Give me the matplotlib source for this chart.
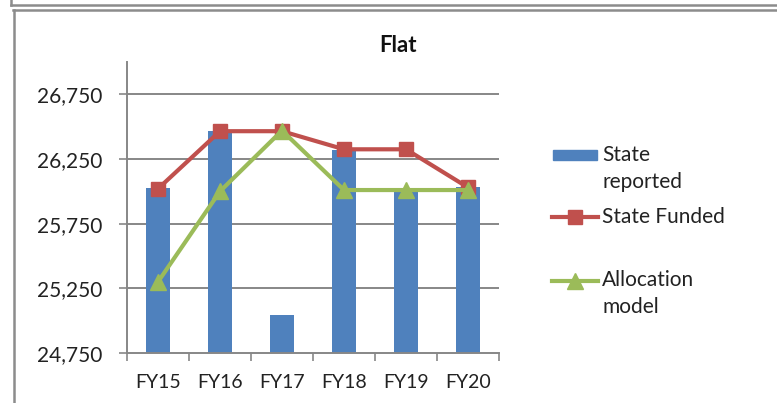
import matplotlib
matplotlib.use("Agg")
import matplotlib.pyplot as plt
from matplotlib.lines import Line2D
from matplotlib.patches import Rectangle
import numpy as np

categories = ["FY15", "FY16", "FY17", "FY18", "FY19", "FY20"]
state_reported = [26025, 26465, 25045, 26320, 26025, 26030]
state_funded = [26020, 26465, 26465, 26325, 26325, 26030]
allocation_model = [25300, 26000, 26470, 26010, 26010, 26010]
y_ticks = [24750, 25250, 25750, 26250, 26750]

BLUE = "#4F81BD"
RED = "#C0504D"
GREEN = "#9BBB59"
GRID = "#878787"
TEXT = "#222222"
FONT = "Lato"

plt.rcParams["font.family"] = [FONT, "DejaVu Sans"]

W, H = 777, 403
fig = plt.figure(figsize=(W / 100, H / 100), dpi=100)
ax = fig.add_axes([127 / W, 1 - 353 / H, 372 / W, 291 / H])

x = np.arange(len(categories))
ax.bar(x, state_reported, width=0.4, color=BLUE, zorder=2)
ax.plot(x, state_funded, color=RED, lw=3, marker="s", ms=10, zorder=3)
ax.plot(x, allocation_model, color=GREEN, lw=3, marker="^", ms=11, zorder=4)

ax.set_xlim(-0.5, len(categories) - 0.5)
ax.set_ylim(24750, 27000)
ax.set_yticks(y_ticks)
ax.set_yticklabels([f"{v:,}" for v in y_ticks], fontsize=15, color=TEXT)
ax.set_xticks(x)
ax.set_xticklabels(categories, fontsize=14, color=TEXT)
ax.tick_params(axis="x", length=0, pad=15)
ax.tick_params(axis="y", length=6, width=1.2, color=GRID, pad=12)
# tick marks between categories on the x axis
ax.set_xticks(np.arange(-0.5, len(categories)), minor=True)
ax.tick_params(axis="x", which="minor", length=6, width=1.2, color=GRID)

for v in y_ticks[1:]:
    ax.axhline(v, color=GRID, lw=1.4, zorder=1)

for side in ["top", "right"]:
    ax.spines[side].set_visible(False)
for side in ["left", "bottom"]:
    ax.spines[side].set_color(GRID)
    ax.spines[side].set_linewidth(1.4)

fig.text(398 / W, 1 - 46 / H, "Flat", fontsize=16, fontweight="bold",
         ha="center", va="center", color="#111111")


def fx(px):
    return px / W


def fy(py):
    return 1 - py / H


# legend drawn by hand so the handles sit on the first text line
fig.add_artist(Rectangle((fx(553), fy(160)), fx(44), 10 / H, color=BLUE,
                         transform=fig.transFigure))
fig.add_artist(Line2D([fx(552), fx(598)], [fy(217), fy(217)], color=RED, lw=3,
                      transform=fig.transFigure))
fig.add_artist(Line2D([fx(575)], [fy(217)], color=RED, marker="s", ms=10,
                      transform=fig.transFigure))
fig.add_artist(Line2D([fx(552), fx(598)], [fy(281), fy(281)], color=GREEN, lw=3,
                      transform=fig.transFigure))
fig.add_artist(Line2D([fx(575)], [fy(281)], color=GREEN, marker="^", ms=11,
                      transform=fig.transFigure))
for label, py in [("State", 155), ("reported", 182), ("State Funded", 217),
                  ("Allocation", 280), ("model", 307)]:
    fig.text(fx(602), fy(py), label, fontsize=15, ha="left", va="center",
             color=TEXT)

# frame of the chart area
frame = dict(color="#8c8c8c", lw=1.8, transform=fig.transFigure)
fig.add_artist(Line2D([fx(11), 1], [fy(4.5), fy(4.5)], **frame))
fig.add_artist(Line2D([fx(13), 1], [fy(10), fy(10)], **frame))
fig.add_artist(Line2D([fx(11), fx(11)], [1, fy(4.5)], **frame))
fig.add_artist(Line2D([fx(13.5), fx(13.5)], [fy(10), 0], **frame))

fig.savefig("out.png", dpi=100)
